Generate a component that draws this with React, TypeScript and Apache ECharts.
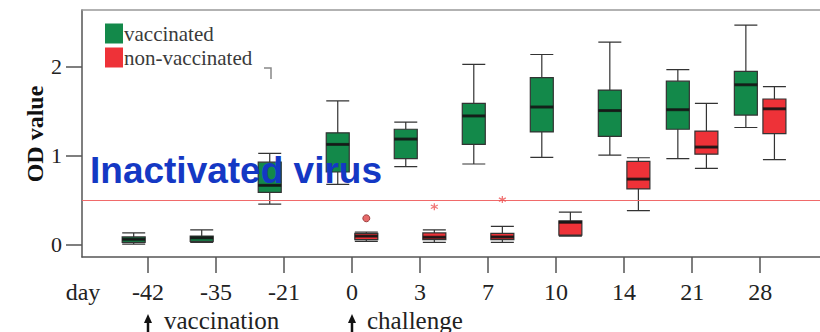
import React, { useEffect, useRef } from "react";
import * as echarts from "echarts";

// ---- data ----
const days = ["-42", "-35", "-21", "0", "3", "7", "10", "14", "21", "28"];
const yTicks = [0, 1, 2];
// [min, Q1, median, Q3, max]
const vaccinated: number[][] = [
  [0.01, 0.03, 0.064, 0.09, 0.135],
  [0.03, 0.04, 0.08, 0.1, 0.17],
  [0.46, 0.59, 0.67, 0.93, 1.03],
  [0.68, 0.82, 1.13, 1.26, 1.62],
  [0.88, 0.97, 1.19, 1.3, 1.38],
  [0.91, 1.13, 1.45, 1.59, 2.03],
  [0.985, 1.27, 1.55, 1.88, 2.14],
  [1.01, 1.22, 1.51, 1.74, 2.28],
  [0.97, 1.3, 1.52, 1.84, 1.97],
  [1.32, 1.46, 1.8, 1.95, 2.47],
];
const nonVaccinated: (number[] | null)[] = [
  null,
  null,
  null,
  [0.04, 0.06, 0.1, 0.13, 0.146],
  [0.03, 0.06, 0.087, 0.135, 0.17],
  [0.03, 0.06, 0.09, 0.13, 0.21],
  [0.1, 0.11, 0.255, 0.27, 0.37],
  [0.385, 0.63, 0.74, 0.94, 0.98],
  [0.86, 1.02, 1.1, 1.28, 1.59],
  [0.96, 1.25, 1.53, 1.64, 1.78],
];
const outlierCircleDays = ["0"];
const outlierCircleValues = [0.3];
const outlierStarDays = ["3", "7"];
const outlierStarValues = [0.43, 0.51];
const threshold = 0.5;

// ---- style / layout ----
const GREEN = "#13894a";
const RED = "#ee3238";
const OFFSET = 0.21;
const X_MIN = -0.97;
const X_MAX = 9.88;
const BOX_W = 23;
const SERIF = '"Liberation Serif", "Times New Roman", serif';

const idx = (d: string) => days.indexOf(d);
const dayIdx = days.map((_, i) => i);

export default function App() {
  const ref = useRef<HTMLDivElement>(null);
  useEffect(() => {
    document.body.style.margin = "0";
    if (!ref.current) return;
    const chart = echarts.init(ref.current, undefined, { renderer: "svg" });

    const vData = vaccinated.map((s, i) => [i - OFFSET, ...s]);
    const nData: number[][] = [];
    nonVaccinated.forEach((s, i) => {
      if (s) nData.push([i + OFFSET, ...s]);
    });

    const xBase: any = {
      type: "value",
      min: X_MIN,
      max: X_MAX,
      splitLine: { show: false },
    };

    const option: any = {
      animation: false,
      backgroundColor: "#ffffff",
      grid: { left: 82, right: 0, top: 10, bottom: 75 },
      legend: {
        data: [
          { name: "vaccinated", itemStyle: { color: GREEN, borderWidth: 0 } },
          { name: "non-vaccinated", itemStyle: { color: RED, borderWidth: 0 } },
        ],
        orient: "vertical",
        left: 100,
        top: 18,
        itemWidth: 18,
        itemHeight: 20,
        itemGap: 3,
        icon: "rect",
        textStyle: {
          fontFamily: SERIF,
          fontSize: 21,
          color: "#3a3a3a",
          padding: [0, 0, 0, -4],
        },
      },
      xAxis: [
        {
          ...xBase,
          position: "bottom",
          axisLine: { show: true, onZero: false, lineStyle: { color: "#555", width: 1.5 } },
          axisTick: {
            show: true,
            customValues: dayIdx,
            length: 16,
            lineStyle: { color: "#555", width: 1.5 },
          },
          axisLabel: {
            customValues: dayIdx,
            formatter: (v: number) => days[Math.round(v)] ?? "",
            margin: 23,
            fontSize: 24,
            fontFamily: SERIF,
            color: "#222",
          },
        },
        {
          ...xBase,
          position: "top",
          axisLine: { show: true, onZero: false, lineStyle: { color: "#999", width: 1.5 } },
          axisTick: { show: false },
          axisLabel: { show: false },
        },
      ],
      yAxis: {
        type: "value",
        min: -0.135,
        max: 2.64,
        splitLine: { show: false },
        axisLine: { show: true, onZero: false, lineStyle: { color: "#555", width: 1.5 } },
        axisTick: {
          show: true,
          customValues: yTicks,
          length: 16,
          lineStyle: { color: "#555", width: 1.5 },
        },
        axisLabel: {
          customValues: yTicks,
          margin: 20,
          fontSize: 22,
          fontFamily: SERIF,
          color: "#222",
        },
      },
      series: [
        {
          name: "vaccinated",
          type: "boxplot",
          xAxisIndex: 0,
          boxWidth: [BOX_W, BOX_W],
          itemStyle: { color: GREEN, borderColor: "#333", borderWidth: 1.2 },
          data: vData,
          markLine: {
            silent: true,
            symbol: "none",
            label: { show: false },
            lineStyle: { color: "#f06a6a", width: 1.2, type: "solid" },
            data: [{ yAxis: threshold }],
          },
        },
        {
          name: "non-vaccinated",
          type: "boxplot",
          xAxisIndex: 1,
          boxWidth: [BOX_W, BOX_W],
          itemStyle: { color: RED, borderColor: "#333", borderWidth: 1.2 },
          data: nData,
        },
        {
          name: "vacc-median",
          type: "scatter",
          xAxisIndex: 0,
          symbol: "rect",
          symbolSize: [BOX_W, 3],
          itemStyle: { color: "#111" },
          z: 5,
          data: vaccinated.map((s, i) => [i - OFFSET, s[2]]),
        },
        {
          name: "nonvacc-median",
          type: "scatter",
          xAxisIndex: 1,
          symbol: "rect",
          symbolSize: [BOX_W, 3],
          itemStyle: { color: "#111" },
          z: 5,
          data: nData.map((d) => [d[0], d[3]]),
        },
        {
          name: "outlier-circle",
          type: "scatter",
          xAxisIndex: 1,
          symbol: "circle",
          symbolSize: 7,
          itemStyle: { color: "#e04545", borderColor: "#8a2a2a", borderWidth: 1 },
          z: 5,
          data: outlierCircleDays.map((d, i) => [idx(d) + OFFSET, outlierCircleValues[i]]),
        },
        {
          name: "outlier-star",
          type: "scatter",
          xAxisIndex: 1,
          symbol: "path://M5,0L5,10M0.7,2.5L9.3,7.5M0.7,7.5L9.3,2.5",
          symbolSize: 7,
          itemStyle: { color: "none", borderColor: "#ee5555", borderWidth: 1.3 },
          z: 5,
          data: outlierStarDays.map((d, i) => [idx(d) + OFFSET, outlierStarValues[i]]),
        },
      ],
      graphic: [
        {
          type: "text",
          x: 35,
          y: 134,
          rotation: Math.PI / 2,
          style: {
            text: "OD value",
            font: `bold 24px ${SERIF}`,
            fill: "#111",
            align: "center",
            verticalAlign: "middle",
          },
        },
        {
          type: "text",
          x: 83,
          y: 292,
          style: {
            text: "day",
            font: `24px ${SERIF}`,
            fill: "#222",
            align: "center",
            verticalAlign: "middle",
          },
        },
        {
          type: "text",
          x: 90,
          y: 170,
          z: 100,
          style: {
            text: "Inactivated virus",
            font: 'bold 37px "Liberation Sans", Arial, sans-serif',
            fill: "#1438c4",
            align: "left",
            verticalAlign: "middle",
          },
        },
        // arrows
        { type: "line", shape: { x1: 148, y1: 320, x2: 148, y2: 332 }, style: { stroke: "#111", lineWidth: 2.5 } },
        { type: "polygon", shape: { points: [[144, 323], [148, 314], [152, 323]] }, style: { fill: "#111" } },
        { type: "line", shape: { x1: 352, y1: 320, x2: 352, y2: 332 }, style: { stroke: "#111", lineWidth: 2.5 } },
        { type: "polygon", shape: { points: [[348, 323], [352, 314], [356, 323]] }, style: { fill: "#111" } },
        {
          type: "text",
          x: 164,
          y: 320,
          style: { text: "vaccination", font: `25px ${SERIF}`, fill: "#222", align: "left", verticalAlign: "middle" },
        },
        {
          type: "text",
          x: 367,
          y: 320,
          style: { text: "challenge", font: `25px ${SERIF}`, fill: "#222", align: "left", verticalAlign: "middle" },
        },
        {
          type: "polyline",
          shape: { points: [[264, 68], [271, 68], [271, 79]] },
          style: { stroke: "#888", lineWidth: 1.5, fill: "none" },
        },
      ],
    };
    chart.setOption(option);
    return () => chart.dispose();
  }, []);
  return <div ref={ref} style={{ width: 820, height: 332 }} />;
}
